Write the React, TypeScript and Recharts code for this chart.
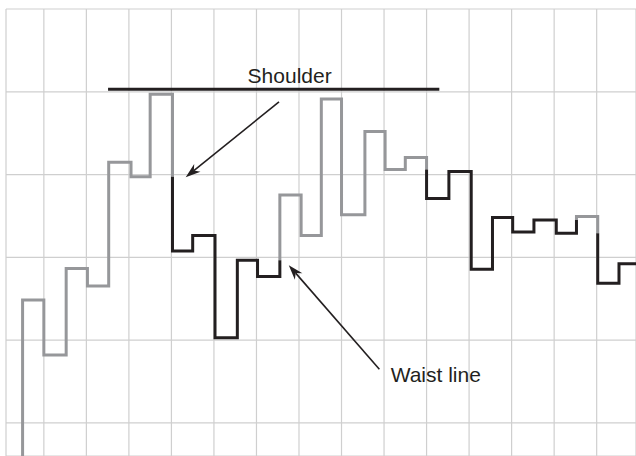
import React from 'react';
import {
  LineChart,
  Line,
  XAxis,
  YAxis,
  CartesianGrid,
  ReferenceLine,
  ReferenceDot,
} from 'recharts';

// column positions of each vertical kagi stroke (grid: one cell = 2 columns)
const kagiColumns = [
  1, 2, 3.05, 4.05, 5.05, 6.1, 7, 8.05, 9, 10.05, 11.1, 12.05, 13.1, 14.1, 15.05,
  16, 17.1, 18.05, 19, 20, 21.05, 22.1, 23.1, 24.05, 25.05, 26.1, 27.05, 28.05, 29.05,
];
// turning prices: stroke k runs from kagiPrices[k] to kagiPrices[k + 1]
const kagiPrices = [
  5, 24.86, 18.21, 28.64, 26.55, 41.49, 39.75, 49.71, 30.78, 32.63, 20.3, 29.65,
  27.67, 37.54, 32.63, 49.14, 35.13, 45.19, 40.62, 42.07, 37.12, 40.38, 28.57,
  34.8, 33.07, 34.52, 32.92, 34.92, 26.88, 29.21,
];
const lastColumn = 30;

const xTicks = [2, 4, 6, 8, 10, 12, 14, 16, 18, 20, 22, 24, 26, 28];
const yTicks = [10, 20, 30, 40, 50, 60];

const shoulderLevel = 50.3;
const shoulderFrom = 5.02;
const shoulderTo = 20.6;

const shoulderLabel = { text: 'Shoulder', x: 13.56, y: 51.04 };
const waistLabel = { text: 'Waist line', x: 18.31, y: 14.99 };
const shoulderArrow = { from: { x: 13.06, y: 48.78 }, to: { x: 8.67, y: 39.68 } };
const waistArrow = { from: { x: 17.78, y: 16.49 }, to: { x: 13.52, y: 29.05 } };

const GRAY = '#96979a';
const INK = '#231f20';
const FONT = '"Liberation Sans", Arial, Helvetica, sans-serif';

type Seg = { x1: number; y1: number; x2: number; y2: number; yang: boolean };

// kagi tone flips when a stroke breaks the previous shoulder / waist
function buildKagi() {
  const segs: Seg[] = [];
  let yang = true;
  let prevHigh: number | null = null;
  let prevLow: number | null = null;
  kagiColumns.forEach((x, k) => {
    const from = kagiPrices[k];
    const to = kagiPrices[k + 1];
    const rising = to > from;
    if (rising && !yang && prevHigh !== null && to > prevHigh) {
      segs.push({ x1: x, y1: from, x2: x, y2: prevHigh, yang: false });
      segs.push({ x1: x, y1: prevHigh, x2: x, y2: to, yang: true });
      yang = true;
    } else if (!rising && yang && prevLow !== null && to < prevLow) {
      segs.push({ x1: x, y1: from, x2: x, y2: prevLow, yang: true });
      segs.push({ x1: x, y1: prevLow, x2: x, y2: to, yang: false });
      yang = false;
    } else {
      segs.push({ x1: x, y1: from, x2: x, y2: to, yang });
    }
    if (rising) prevHigh = to;
    else prevLow = to;
    const next = k + 1 < kagiColumns.length ? kagiColumns[k + 1] : lastColumn;
    segs.push({ x1: x, y1: to, x2: next, y2: to, yang });
  });

  const rows: { x: number; yang: number | null; yin: number | null }[] = [];
  segs.forEach((s, i) => {
    const prev = segs[i - 1];
    const startYang = s.yang || (prev ? prev.yang : false);
    const startYin = !s.yang || (prev ? !prev.yang : false);
    rows.push({ x: s.x1, yang: startYang ? s.y1 : null, yin: startYin ? s.y1 : null });
  });
  const tail = segs[segs.length - 1];
  rows.push({ x: tail.x2, yang: tail.yang ? tail.y2 : null, yin: tail.yang ? null : tail.y2 });
  return rows;
}

const kagiRows = buildKagi();

const Arrow = (props: any) => {
  const { x1, y1, x2, y2 } = props;
  const dx = x2 - x1;
  const dy = y2 - y1;
  const len = Math.sqrt(dx * dx + dy * dy);
  const ux = dx / len;
  const uy = dy / len;
  const headLen = 15;
  const half = 5;
  const bx = x2 - ux * headLen;
  const by = y2 - uy * headLen;
  const nx = x2 - ux * headLen * 0.7;
  const ny = y2 - uy * headLen * 0.7;
  const pts = [
    `${x2},${y2}`,
    `${bx - uy * half},${by + ux * half}`,
    `${nx},${ny}`,
    `${bx + uy * half},${by - ux * half}`,
  ].join(' ');
  return (
    <g>
      <line x1={x1} y1={y1} x2={nx} y2={ny} stroke={INK} strokeWidth={1.6} />
      <polygon points={pts} fill={INK} />
    </g>
  );
};

const labelShape = (text: string, anchor: 'start' | 'middle') => (p: any) => (
  <text
    x={p.cx}
    y={p.cy}
    textAnchor={anchor}
    fontFamily={FONT}
    fontSize={21}
    fill={INK}
  >
    {text}
  </text>
);

export default function App() {
  return (
    <div style={{ position: 'fixed', left: 0, top: 0, background: '#fff' }}>
      <LineChart
        width={636}
        height={456}
        data={kagiRows}
        margin={{ top: 9, right: 0, bottom: 0, left: 6 }}
      >
        <CartesianGrid stroke="#cfcfcf" strokeWidth={1.2} />
        <XAxis
          type="number"
          dataKey="x"
          domain={[0.22, 29.85]}
          ticks={xTicks}
          allowDataOverflow
          hide
        />
        <YAxis type="number" domain={[6, 60]} ticks={yTicks} allowDataOverflow hide />
        <Line
          type="linear"
          dataKey="yang"
          stroke={GRAY}
          strokeWidth={3}
          strokeLinejoin="miter"
          dot={false}
          activeDot={false}
          connectNulls={false}
          isAnimationActive={false}
        />
        <Line
          type="linear"
          dataKey="yin"
          stroke={INK}
          strokeWidth={3}
          strokeLinejoin="miter"
          dot={false}
          activeDot={false}
          connectNulls={false}
          isAnimationActive={false}
        />
        <ReferenceLine
          segment={[
            { x: shoulderFrom, y: shoulderLevel },
            { x: shoulderTo, y: shoulderLevel },
          ]}
          stroke={INK}
          strokeWidth={3}
        />
        <ReferenceLine
          segment={[shoulderArrow.from, shoulderArrow.to]}
          shape={Arrow}
        />
        <ReferenceLine segment={[waistArrow.from, waistArrow.to]} shape={Arrow} />
        <ReferenceDot
          x={shoulderLabel.x}
          y={shoulderLabel.y}
          r={0}
          shape={labelShape(shoulderLabel.text, 'middle')}
        />
        <ReferenceDot
          x={waistLabel.x}
          y={waistLabel.y}
          r={0}
          shape={labelShape(waistLabel.text, 'start')}
        />
      </LineChart>
    </div>
  );
}
